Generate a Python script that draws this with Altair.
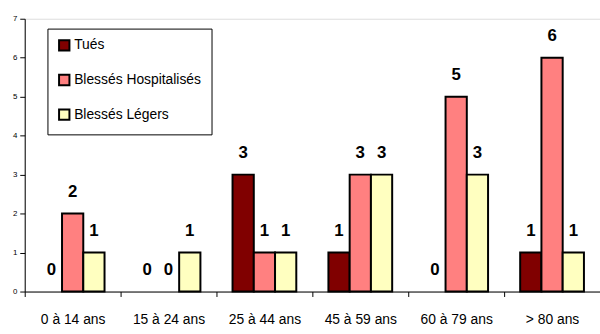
import altair as alt
import pandas as pd

categories = ["0 à 14 ans", "15 à 24 ans", "25 à 44 ans", "45 à 59 ans", "60 à 79 ans", "> 80 ans"]
series = ["Tués", "Blessés Hospitalisés", "Blessés Légers"]
tues = [0, 0, 3, 1, 0, 1]
hospitalises = [2, 0, 1, 3, 5, 6]
legers = [1, 1, 1, 3, 3, 1]
colors = ["#800000", "#FF8080", "#FFFFC0"]

rows = []
for i, c in enumerate(categories):
    for s, vals in zip(series, [tues, hospitalises, legers]):
        rows.append({"cat": c, "serie": s, "v": vals[i]})
df = pd.DataFrame(rows)

FONT = "Liberation Sans"

x = alt.X("cat:N", sort=categories, title=None,
          scale=alt.Scale(paddingInner=0.335, paddingOuter=0.1675),
          axis=alt.Axis(labelAngle=0, labelFont=FONT, labelFontSize=14, labelColor="black",
                        labelPadding=16, tickSize=5, tickColor="black", domainColor="black",
                        tickOffset=-48.5, labelOffset=48.5, grid=False))
xo = alt.XOffset("serie:N", sort=series, scale=alt.Scale(paddingInner=0, paddingOuter=0))
y = alt.Y("v:Q", title=None,
          scale=alt.Scale(domain=[0, 7], nice=False),
          axis=alt.Axis(values=list(range(8)), labelFont=FONT, labelFontSize=8, labelColor="black",
                        tickSize=5, tickColor="black", domainColor="black", grid=False,
                        labelPadding=3))

bars = alt.Chart(df).transform_filter("datum.v > 0").mark_bar(
    stroke="black", strokeWidth=2, opacity=1
).encode(
    x=x, xOffset=xo, y=y,
    color=alt.Color("serie:N", sort=series,
                    scale=alt.Scale(domain=series, range=colors),
                    legend=alt.Legend(title=None, orient="none", legendX=23, legendY=10,
                                      symbolType="square", symbolSize=110,
                                      symbolStrokeColor="black", symbolStrokeWidth=2,
                                      labelFont=FONT, labelFontSize=14, labelColor="black",
                                      rowPadding=15, padding=10, strokeColor="black",
                                      fillColor="white", labelOffset=3))
)

text = alt.Chart(df).mark_text(
    font=FONT, fontSize=17, fontWeight="bold", color="black", baseline="middle", dy=-22
).encode(x=x, xOffset=xo, y=y, text="v:Q")

chart = alt.layer(bars, text).properties(
    width=582, height=276,
    autosize=alt.AutoSizeParams(type="none"),
    padding={"left": 25, "top": 17, "right": 0, "bottom": 41},
).configure_view(stroke=None).configure(background="white")

chart.save("out.html", embed_options={"renderer": "svg", "actions": False})
